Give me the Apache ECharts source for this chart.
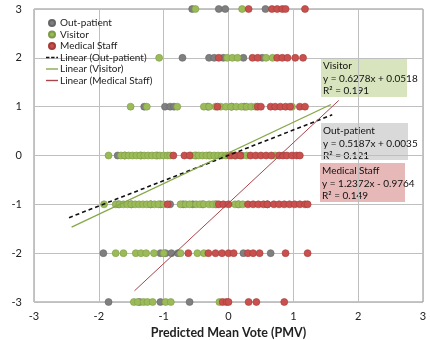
<!DOCTYPE html>
<html>
<head>
  <meta charset="utf-8">
  <title>ASV vs PMV</title>
  <script src="https://cdn.jsdelivr.net/npm/echarts@6/dist/echarts.min.js"></script>
</head>
<body style="margin:0">
  <div id="main" style="width: 430px;height:340px;"></div>
  <script type="text/javascript">
    // points: [PMV, ASV]
    var outPatient = [
      [-0.56, 3], [-0.15, 3], [-0.05, 3], [0.57, 3],
      [-0.71, 2], [-0.3, 2], [-0.22, 2], [-0.08, 2], [0.23, 2], [0.52, 2],
      [-1.3, 1], [-0.98, 1], [-0.9, 1], [-0.84, 1], [-0.32, 1], [0.05, 1], [0.25, 1],
      [-1.71, 0], [-1.6, 0], [-1.35, 0], [-1.1, 0], [-0.5, 0], [-0.3, 0], [0.1, 0], [0.2, 0],
      [-1.7, -1], [-1.5, -1], [-1.2, -1], [-1.05, -1], [-0.9, -1], [-0.7, -1], [-0.55, -1], [-0.4, -1], [-0.2, -1], [0.15, -1], [0.6, -1],
      [-1.93, -2], [-1.05, -2], [-0.97, -2], [-0.88, -2], [-0.78, -2], [0.23, -2], [0.65, -2],
      [-1.85, -3], [-1.37, -3], [-1.05, -3], [-0.6, -3]
    ];
    var visitor = [
      [-0.51, 3], [0.21, 3],
      [-1.07, 2], [-0.02, 2], [0.06, 2], [0.14, 2], [0.58, 2], [0.68, 2],
      [-1.51, 1], [-1.26, 1], [-0.79, 1], [-0.38, 1], [-0.3, 1], [-0.2, 1], [-0.12, 1], [-0.04, 1], [0.04, 1], [0.12, 1], [0.2, 1], [0.28, 1], [0.35, 1], [0.42, 1], [0.98, 1],
      [-1.85, 0], [-1.66, 0], [-1.6, 0], [-1.54, 0], [-1.48, 0], [-1.42, 0], [-1.36, 0], [-1.3, 0], [-1.24, 0], [-1.18, 0], [-1.12, 0], [-1.06, 0], [-1.0, 0], [-0.94, 0], [-0.9, 0],
      [-0.58, 0], [-0.52, 0], [-0.46, 0], [-0.4, 0], [-0.34, 0], [-0.28, 0], [-0.22, 0], [-0.16, 0], [-0.1, 0], [-0.04, 0], [0.05, 0], [0.12, 0], [0.28, 0], [0.72, 0],
      [-1.92, -1], [-1.74, -1], [-1.68, -1], [-1.62, -1], [-1.56, -1], [-1.5, -1], [-1.44, -1], [-1.38, -1], [-1.32, -1], [-1.26, -1], [-1.2, -1], [-1.14, -1], [-1.08, -1], [-1.0, -1],
      [-0.74, -1], [-0.66, -1], [-0.6, -1], [-0.5, -1], [-0.44, -1], [-0.38, -1], [-0.3, -1], [-0.24, -1], [-0.18, -1], [0.1, -1], [0.16, -1], [0.22, -1],
      [-1.74, -2], [-1.62, -2], [-1.43, -2], [-1.35, -2], [-1.27, -2], [-1.15, -2], [-1.0, -2], [-0.74, -2], [-0.48, -2], [-0.38, -2],
      [-1.46, -3], [-1.4, -3], [-1.31, -3], [-1.25, -3], [-1.17, -3], [-0.97, -3], [-0.89, -3], [-0.14, -3]
    ];
    var medicalStaff = [
      [0.31, 3], [0.67, 3], [0.75, 3], [0.83, 3], [0.88, 3], [1.18, 3],
      [-0.15, 2], [0.37, 2], [0.45, 2], [0.75, 2], [0.83, 2], [0.91, 2], [1.03, 2], [1.15, 2],
      [-0.17, 1], [0.45, 1], [0.5, 1], [0.65, 1], [0.72, 1], [0.8, 1], [0.88, 1], [0.95, 1], [1.1, 1], [1.18, 1],
      [-0.85, 0], [-0.68, 0], [-0.6, 0], [0.02, 0], [0.1, 0], [0.18, 0], [0.34, 0], [0.42, 0], [0.5, 0], [0.58, 0], [0.66, 0], [0.78, 0], [0.84, 0], [0.9, 0], [0.98, 0], [1.05, 0], [1.1, 0],
      [-0.94, -1], [-0.15, -1], [-0.08, -1], [0.0, -1], [0.3, -1], [0.38, -1], [0.46, -1], [0.54, -1], [0.6, -1], [0.7, -1], [0.78, -1], [0.86, -1], [0.94, -1], [1.02, -1], [1.1, -1], [1.18, -1], [1.22, -1],
      [-0.62, -2], [-0.31, -2], [-0.2, -2], [-0.1, -2], [0, -2], [0.08, -2], [0.3, -2], [0.38, -2], [0.48, -2], [0.88, -2], [1.22, -2],
      [-0.09, -3], [-0.03, -3], [0.0, -3], [0.31, -3], [0.43, -3], [0.86, -3]
    ];

    // trendlines: slope, intercept, x range drawn
    var fitOut = { k: 0.5187, b: 0.0035, from: -2.46, to: 1.6, r2: 0.121 };
    var fitVisitor = { k: 0.6278, b: 0.0518, from: -2.42, to: 1.58, r2: 0.191 };
    var fitMedical = { k: 1.2372, b: -0.9764, from: -1.45, to: 1.7, r2: 0.149 };

    var axisTicks = [-3, -2, -1, 0, 1, 2, 3];

    function fitLine(f) {
      return [[f.from, f.k * f.from + f.b], [f.to, f.k * f.to + f.b]];
    }
    function eqText(name, f) {
      var sign = f.b < 0 ? ' - ' : ' + ';
      return name + '\ny = ' + f.k.toFixed(4) + 'x' + sign + Math.abs(f.b).toFixed(4) + '\nR\u00b2 = ' + f.r2.toFixed(3);
    }
    function box(x, y, w, h, fill, txt) {
      return {
        type: 'group', left: x, top: y, z: 100,
        children: [
          { type: 'rect', shape: { x: 0, y: 0, width: w, height: h }, style: { fill: fill } },
          { type: 'text', x: 2, y: 2, style: { text: txt, font: '10px Lato', fill: '#111', lineHeight: 12.5 } }
        ]
      };
    }
    // legend icons for the trendlines (plain strokes, no marker)
    var solidIcon = 'path://M0,0L14,0L14,1.6L0,1.6Z';
    var dashIcon = 'path://M0,0L4,0L4,1.6L0,1.6Z M6,0L10,0L10,1.6L6,1.6Z M12,0L14,0L14,1.6L12,1.6Z';

    var myChart = echarts.init(document.getElementById('main'), null, { renderer: 'canvas' });
    var option = {
      animation: false,
      textStyle: { fontFamily: 'Lato' },
      grid: { left: 34, right: 7, top: 9, bottom: 38, show: true, borderColor: '#8c8c8c', borderWidth: 1, outerBoundsMode: 'none' },
      legend: {
        orient: 'vertical', left: 41, top: 13, itemGap: 1.5, itemWidth: 12, itemHeight: 6,
        textStyle: { fontSize: 10, color: '#222', padding: [0, 0, 0, -3] },
        data: [
          { name: 'Out-patient', icon: 'circle' },
          { name: 'Visitor', icon: 'circle' },
          { name: 'Medical Staff', icon: 'circle' },
          { name: 'Linear (Out-patient)', icon: dashIcon, itemStyle: { color: '#111' } },
          { name: 'Linear (Visitor)', icon: solidIcon, itemStyle: { color: '#86a84a' } },
          { name: 'Linear (Medical Staff)', icon: solidIcon, itemStyle: { color: '#a8444a' } }
        ]
      },
      xAxis: {
        type: 'value', min: axisTicks[0], max: axisTicks[axisTicks.length - 1], interval: 1,
        name: 'Predicted Mean Vote (PMV)', nameLocation: 'middle', nameGap: 24,
        nameTextStyle: { fontSize: 12.5, fontWeight: 'bold', color: '#222' },
        axisLine: { show: false }, axisTick: { show: false },
        axisLabel: { fontSize: 11, color: '#222', margin: 9 },
        splitLine: { lineStyle: { color: '#bfbfbf' } }
      },
      yAxis: {
        type: 'value', min: axisTicks[0], max: axisTicks[axisTicks.length - 1], interval: 1,
        name: 'Actual Thermal Sensation Vote (ASV)', nameLocation: 'middle', nameGap: 22,
        nameTextStyle: { fontSize: 12.5, fontWeight: 'bold', color: '#222' },
        axisLine: { show: false }, axisTick: { show: false },
        axisLabel: { fontSize: 11, color: '#222', margin: 12 },
        splitLine: { lineStyle: { color: '#bfbfbf' } }
      },
      series: [
        { name: 'Out-patient', type: 'scatter', data: outPatient, symbolSize: 7,
          itemStyle: { color: '#7f7f7f', borderColor: '#666', borderWidth: 0.6, opacity: 1 } },
        { name: 'Visitor', type: 'scatter', data: visitor, symbolSize: 7,
          itemStyle: { color: '#9bbb59', borderColor: '#7d9a45', borderWidth: 0.6, opacity: 1 } },
        { name: 'Medical Staff', type: 'scatter', data: medicalStaff, symbolSize: 7,
          itemStyle: { color: '#c9504d', borderColor: '#a33d3a', borderWidth: 0.6, opacity: 1 } },
        { name: 'Linear (Out-patient)', type: 'line', data: fitLine(fitOut), symbol: 'none', z: 5,
          lineStyle: { color: '#111', width: 1.6, type: [4, 3] }, itemStyle: { color: '#111' } },
        { name: 'Linear (Visitor)', type: 'line', data: fitLine(fitVisitor), symbol: 'none', z: 5,
          lineStyle: { color: '#86a84a', width: 1.3 }, itemStyle: { color: '#86a84a' } },
        { name: 'Linear (Medical Staff)', type: 'line', data: fitLine(fitMedical), symbol: 'none', z: 5,
          lineStyle: { color: '#a8444a', width: 1 }, itemStyle: { color: '#a8444a' } }
      ],
      graphic: [
        box(321, 58, 86, 39, '#d7e4bd', eqText('Visitor', fitVisitor)),
        box(321, 123, 87, 37, '#d9d9d9', eqText('Out-patient', fitOut)),
        box(320, 163, 85, 39, '#e6b9b8', eqText('Medical Staff', fitMedical))
      ]
    };
    myChart.setOption(option);
  </script>
</body>
</html>
